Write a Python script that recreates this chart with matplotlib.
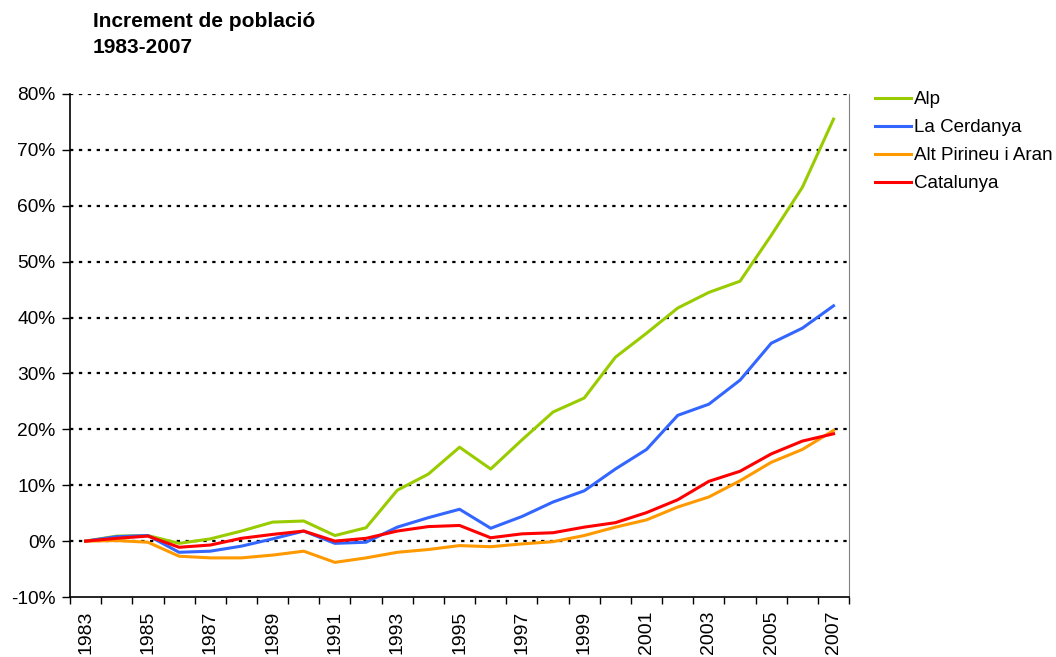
import numpy as np
import matplotlib
matplotlib.use("Agg")
import matplotlib.pyplot as plt
from matplotlib.ticker import FixedLocator, FuncFormatter

plt.rcParams["font.family"] = ["Liberation Sans", "DejaVu Sans"]

# population growth vs 1983, in %
years = list(range(1983, 2008))
alp = [0.0, 0.9, 1.0, -0.4, 0.4, 1.8, 3.4, 3.6, 1.0, 2.4, 9.1, 12.0, 16.8,
       12.9, 18.1, 23.1, 25.6, 32.9, 37.2, 41.7, 44.5, 46.5, 54.7, 63.3, 75.5]
cerdanya = [0.0, 0.8, 1.0, -2.0, -1.8, -0.9, 0.4, 1.8, -0.4, -0.2, 2.5, 4.2, 5.7,
            2.3, 4.4, 7.0, 9.0, 12.9, 16.4, 22.5, 24.5, 28.8, 35.4, 38.1, 42.1]
alt_pirineu = [0.0, 0.1, -0.2, -2.7, -3.0, -3.0, -2.5, -1.8, -3.8, -3.0, -2.0, -1.5, -0.8,
               -1.0, -0.5, -0.1, 1.0, 2.5, 3.8, 6.1, 7.9, 10.8, 14.1, 16.4, 19.8]
catalunya = [0.0, 0.5, 0.9, -1.1, -0.7, 0.5, 1.2, 1.8, 0.0, 0.5, 1.8, 2.6, 2.8,
             0.6, 1.3, 1.5, 2.5, 3.3, 5.1, 7.4, 10.7, 12.5, 15.6, 17.9, 19.2]
series_names = ["Alp", "La Cerdanya", "Alt Pirineu i Aran", "Catalunya"]
colors = ["#99CC00", "#3366FF", "#FF9900", "#FF0000"]

fig = plt.figure(figsize=(10.56, 6.57), dpi=100)
ax = fig.add_axes([0.0663, 0.0913, 0.7378, 0.7657])

x = np.arange(len(years))
for vals, name, c in zip([alp, cerdanya, alt_pirineu, catalunya], series_names, colors):
    ax.plot(x, vals, color=c, lw=2.2, label=name, zorder=3)

ax.set_xlim(-0.5, len(years) - 0.5)
ax.set_ylim(-10, 80)
ax.set_yticks(np.arange(-10, 81, 10))
ax.yaxis.set_major_formatter(FuncFormatter(lambda v, _: f"{v:.0f}%"))
for yv in range(0, 81, 10):
    ax.axhline(yv, color="black", lw=1.6, ls=(0, (1.5, 2.5)), zorder=1)

# ticks between categories, labels every other year
ax.xaxis.set_major_locator(FixedLocator(np.arange(-0.5, len(years), 1)))
ax.xaxis.set_major_formatter(FuncFormatter(lambda v, _: ""))
ax.set_xticks(x[::2], [str(y) for y in years[::2]], minor=True)
ax.tick_params(axis="x", which="minor", length=0, rotation=90, labelsize=14, pad=10)
ax.tick_params(axis="x", which="major", length=5, width=1)
ax.tick_params(axis="y", length=5.5, width=1, labelsize=13.8, pad=5)

ax.spines["top"].set_visible(False)
ax.spines["right"].set_color("#808080")
ax.spines["left"].set_linewidth(1.2)
ax.spines["bottom"].set_linewidth(1.2)

fig.text(0.088, 0.968, "Increment de població", fontsize=15, fontweight="bold", va="center")
fig.text(0.088, 0.927, "1983-2007", fontsize=15, fontweight="bold", va="center")

fig.legend(loc="upper left", bbox_to_anchor=(0.829, 0.861), frameon=False,
           fontsize=13.5, handlelength=1.9, handletextpad=0.15, labelspacing=0.58,
           borderaxespad=0, borderpad=0)

fig.savefig("out.png", dpi=100)
